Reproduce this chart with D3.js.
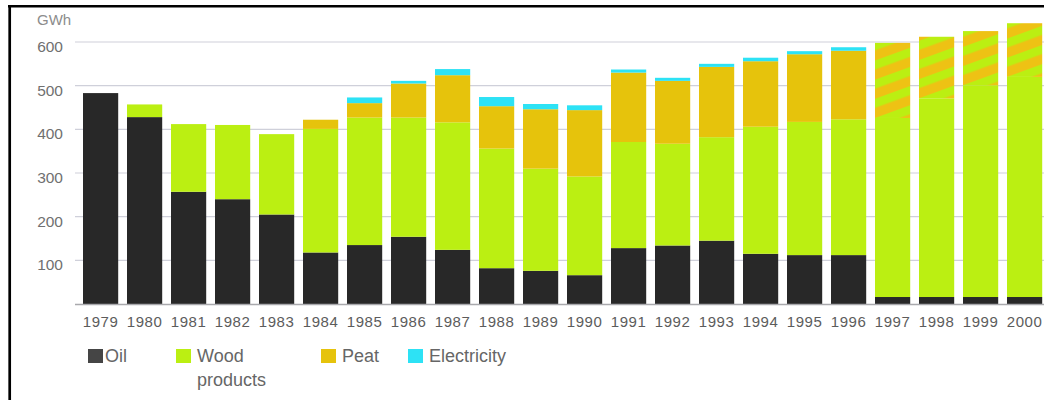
<!DOCTYPE html>
<html>
<head>
<meta charset="utf-8">
<script src="https://cdn.jsdelivr.net/npm/d3@7"></script>
<style>
  html, body { margin: 0; padding: 0; background: #fff; }
  svg { display: block; }
  text { font-family: "Liberation Sans", Arial, Helvetica, sans-serif; }
</style>
</head>
<body>
<svg id="chart" width="1044" height="400"></svg>
<script>
// Energy use by source, GWh per year
const years = ["1979","1980","1981","1982","1983","1984","1985","1986","1987","1988","1989",
               "1990","1991","1992","1993","1994","1995","1996","1997","1998","1999","2000"];
const oil         = [483, 428, 257, 240, 205, 118, 135, 154, 124, 82, 76, 66, 128, 134, 145, 115, 112, 112, 16, 16, 16, 16];
const wood        = [0, 29, 155, 170, 184, 283, 292, 273, 292, 274, 234, 226, 243, 233, 237, 291, 305, 311, 410, 455, 485, 504];
const peat        = [0, 0, 0, 0, 0, 21, 33, 78, 108, 97, 136, 152, 159, 144, 161, 150, 155, 157, 172, 141, 124, 123];
const electricity = [0, 0, 0, 0, 0, 0, 13, 6, 14, 21, 12, 11, 7, 7, 7, 8, 7, 8, 0, 0, 0, 0];
// Years where the peat share is shown hatched over wood
const hatchedYears = ["1997","1998","1999","2000"];
const yTicks = [100, 200, 300, 400, 500, 600];

const keys = ["oil", "wood", "peat", "electricity"];
const legendLabels = [["Oil"], ["Wood", "products"], ["Peat"], ["Electricity"]];
const colors = { oil: "#282828", wood: "#bbef12", peat: "#e6c30c", electricity: "#2de2f5" };
const hatchStripe = "#eec214";

const rows = years.map((yr, i) => ({
  year: yr, oil: oil[i], wood: wood[i], peat: peat[i], electricity: electricity[i]
}));

const svg = d3.select("#chart");

const x = d3.scaleBand().domain(years).range([78.6, 1046.6]).paddingInner(0.2).paddingOuter(0.1);
const y = d3.scaleLinear().domain([0, 600]).range([304, 42]);

// frame lines
svg.append("line").attr("x1", 8).attr("x2", 1044).attr("y1", 6.2).attr("y2", 6.2)
  .attr("stroke", "#000").attr("stroke-width", 2.6);
svg.append("line").attr("x1", 9.7).attr("x2", 9.7).attr("y1", 5).attr("y2", 400)
  .attr("stroke", "#000").attr("stroke-width", 2.7);

// gridlines
svg.append("g").selectAll("line").data(yTicks).join("line")
  .attr("x1", 75).attr("x2", 1044)
  .attr("y1", d => y(d)).attr("y2", d => y(d))
  .attr("stroke", "#cfd0da").attr("stroke-width", 1.2);

// value axis labels
svg.append("g").selectAll("text").data(yTicks).join("text")
  .attr("x", 63).attr("y", d => y(d) + 10)
  .attr("text-anchor", "end")
  .attr("font-size", 15.5)
  .attr("fill", "#707070")
  .text(d => d);

svg.append("text").attr("x", 37).attr("y", 25)
  .attr("font-size", 15).attr("fill", "#8c8c8c").text("GWh");

// stacked bars
const stacked = d3.stack().keys(keys)(rows);
const defs = svg.append("defs");

hatchedYears.forEach(yr => {
  const i = years.indexOf(yr);
  const seg = stacked[2][i];
  const pat = defs.append("pattern")
    .attr("id", "hatch-" + yr)
    .attr("patternUnits", "userSpaceOnUse")
    .attr("width", 20).attr("height", 18)
    .attr("patternTransform", `translate(${x(yr)},${y(seg[0])}) rotate(-20)`);
  pat.append("rect").attr("width", 20).attr("height", 18).attr("fill", colors.wood);
  pat.append("rect").attr("y", 8.5).attr("width", 20).attr("height", 9.5).attr("fill", hatchStripe);
});

const layers = svg.append("g").selectAll("g").data(stacked).join("g");
layers.selectAll("rect")
  .data(layer => layer.map(d => ({ key: layer.key, d })))
  .join("rect")
  .filter(o => o.d[1] - o.d[0] > 0)
  .attr("x", o => x(o.d.data.year))
  .attr("width", x.bandwidth())
  .attr("y", o => y(o.d[1]))
  .attr("height", o => y(o.d[0]) - y(o.d[1]))
  .attr("fill", o => (o.key === "peat" && hatchedYears.includes(o.d.data.year))
    ? `url(#hatch-${o.d.data.year})` : colors[o.key]);

// baseline
svg.append("line").attr("x1", 75).attr("x2", 1044).attr("y1", y(0) + 0.5).attr("y2", y(0) + 0.5)
  .attr("stroke", "#a9a9ad").attr("stroke-width", 1.3);

// category labels
svg.append("g").selectAll("text").data(years).join("text")
  .attr("x", d => x(d) + x.bandwidth() / 2)
  .attr("y", 327)
  .attr("text-anchor", "middle")
  .attr("font-size", 15)
  .attr("letter-spacing", 0.6)
  .attr("fill", "#5c5c5c")
  .text(d => d);

// legend
const legendX = [88, 176, 321, 408];
const legend = svg.append("g").selectAll("g").data(keys).join("g")
  .attr("transform", (k, i) => `translate(${legendX[i]},349)`);
legend.append("rect").attr("width", 15).attr("height", 14)
  .attr("fill", k => k === "oil" ? "#454545" : colors[k]);
legend.each(function (k, i) {
  const g = d3.select(this);
  legendLabels[i].forEach((line, j) => {
    g.append("text").attr("x", i === 0 ? 17 : 21).attr("y", 13 + j * 24)
      .attr("font-size", 18).attr("fill", "#666").text(line);
  });
});
</script>
</body>
</html>
